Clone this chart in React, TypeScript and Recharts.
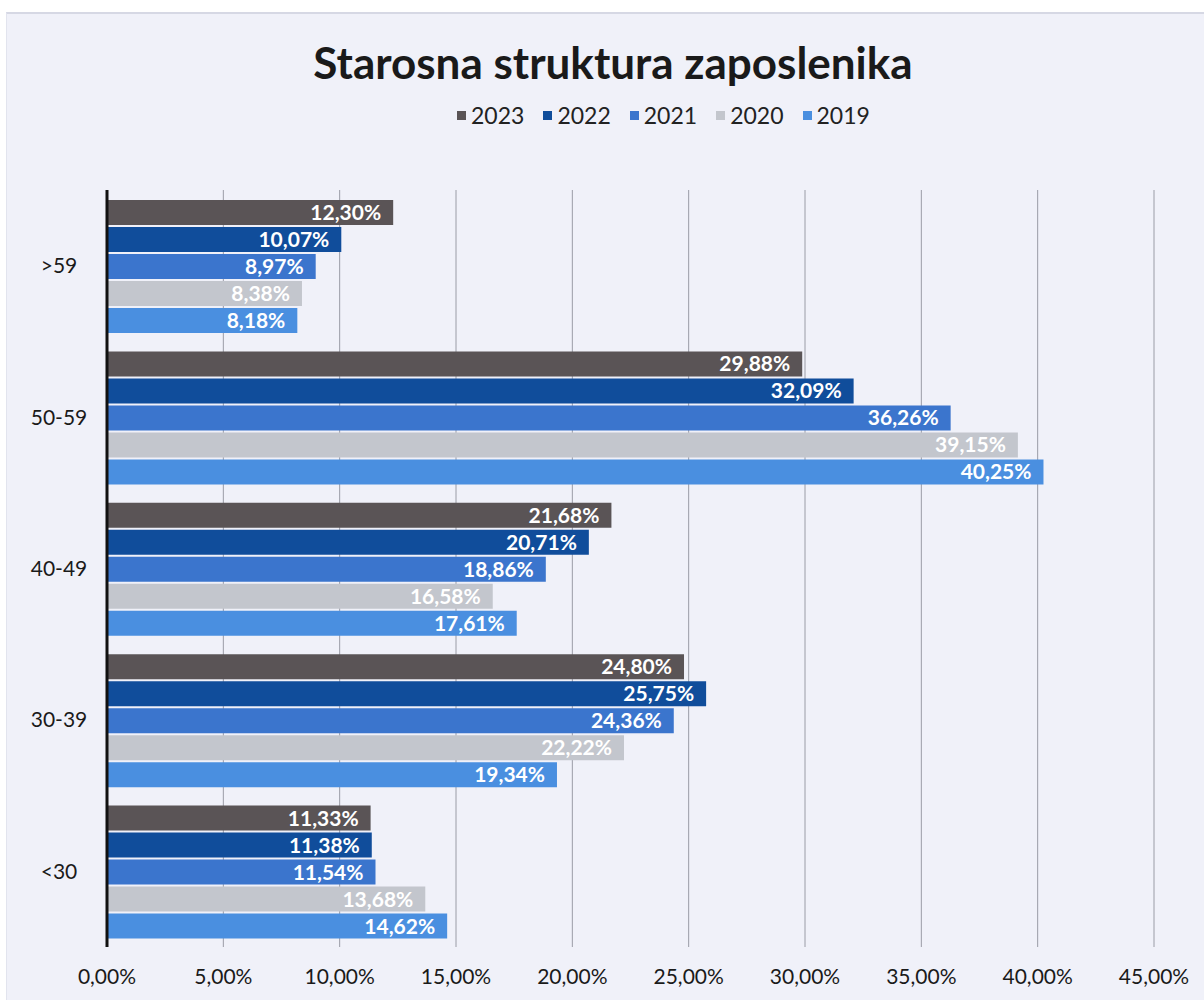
import { BarChart, Bar, XAxis, YAxis, CartesianGrid, LabelList } from 'recharts';

const ageGroups = ['>59', '50-59', '40-49', '30-39', '<30'];

const years = ['2023', '2022', '2021', '2020', '2019'];

const values2023 = [12.3, 29.88, 21.68, 24.8, 11.33];
const values2022 = [10.07, 32.09, 20.71, 25.75, 11.38];
const values2021 = [8.97, 36.26, 18.86, 24.36, 11.54];
const values2020 = [8.38, 39.15, 16.58, 22.22, 13.68];
const values2019 = [8.18, 40.25, 17.61, 19.34, 14.62];

const xTicks = [0, 5, 10, 15, 20, 25, 30, 35, 40, 45];

const colors: Record<string, string> = {
  '2023': '#5a5456',
  '2022': '#104d9b',
  '2021': '#3b75cd',
  '2020': '#c3c6cd',
  '2019': '#4a8fe0',
};

const seriesValues: Record<string, number[]> = {
  '2023': values2023,
  '2022': values2022,
  '2021': values2021,
  '2020': values2020,
  '2019': values2019,
};

const data = ageGroups.map((group, i) => {
  const row: Record<string, string | number> = { group };
  years.forEach((y) => {
    row[y] = seriesValues[y][i];
  });
  return row;
});

const pct = (v: number) => `${Number(v).toFixed(2).replace('.', ',')}%`;

const font = 'Lato, "Open Sans", sans-serif';

export default function App() {
  return (
    <div
      style={{
        position: 'absolute',
        left: 0,
        top: 0,
        width: 1204,
        height: 1000,
        background: '#ffffff',
        fontFamily: font,
        overflow: 'hidden',
      }}
    >
      <div
        style={{
          position: 'absolute',
          left: 6,
          top: 12,
          width: 1198,
          height: 988,
          background: '#f0f1f9',
          borderTop: '2px solid #d6d8e4',
          borderLeft: '1px solid #e2e4ee',
        }}
      >
        <div
          style={{
            position: 'absolute',
            left: 0,
            top: 26,
            width: 1212,
            textAlign: 'center',
            fontSize: 44,
            lineHeight: '44px',
            fontWeight: 700,
            color: '#1a1a1a',
          }}
        >
          Starosna struktura zaposlenika
        </div>
        <div
          style={{
            position: 'absolute',
            left: 450,
            top: 87,
            display: 'flex',
            gap: 19,
            fontSize: 23,
            color: '#222',
          }}
        >
          {years.map((y) => (
            <div key={y} style={{ display: 'flex', alignItems: 'center' }}>
              <span
                style={{
                  width: 9,
                  height: 9,
                  background: colors[y],
                  marginRight: 5,
                  display: 'inline-block',
                }}
              />
              <span>{y}</span>
            </div>
          ))}
        </div>
        <BarChart
          width={1198}
          height={988}
          data={data}
          layout="vertical"
          margin={{ top: 176, right: 51, left: 0, bottom: 0 }}
          barCategoryGap={10}
          barGap={2}
        >
          <CartesianGrid horizontal={false} vertical={true} stroke="#9a9ca6" />
          <XAxis
            type="number"
            domain={[0, 45]}
            ticks={xTicks}
            tickFormatter={pct}
            axisLine={false}
            tickLine={false}
            height={55}
            tickMargin={16}
            tick={{ fill: '#1a1a1a', fontSize: 21, fontFamily: font }}
          />
          <YAxis
            type="category"
            dataKey="group"
            width={100}
            axisLine={{ stroke: '#111', strokeWidth: 3 }}
            tickLine={false}
            tickMargin={42}
            tick={{ fill: '#1a1a1a', fontSize: 21, fontFamily: font, textAnchor: 'middle' }}
          />
          {years.map((y) => (
            <Bar key={y} dataKey={y} fill={colors[y]} isAnimationActive={false}>
              <LabelList
                dataKey={y}
                position="insideRight"
                offset={12}
                formatter={(v: number) => pct(v)}
                fill="#ffffff"
                fontSize={21}
                fontWeight={700}
                fontFamily={font}
              />
            </Bar>
          ))}
        </BarChart>
      </div>
    </div>
  );
}
